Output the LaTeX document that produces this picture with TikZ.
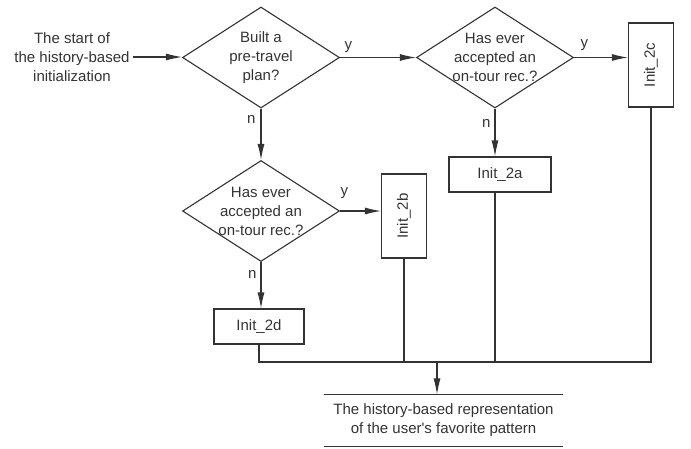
\documentclass[tikz,border=0pt]{standalone}
\usepackage{fontspec}
\setmainfont{Liberation Sans}
\usepackage{graphicx}
\usetikzlibrary{shapes.geometric,positioning,arrows.meta,calc}
\tikzset{decision/.style={diamond,draw,aspect=1.55,inner sep=0pt,minimum width=157pt,minimum height=101pt},
procbox/.style={rectangle,draw,inner sep=0pt,minimum width=90pt,minimum height=35pt},
tallbox/.style={rectangle,draw,inner sep=0pt,minimum width=45pt,minimum height=84pt},
lbl/.style={inner sep=0pt}}

\begin{document}
\begin{tikzpicture}[x=1pt,y=-1pt,line width=1.1pt,color=black!80,font=\fontsize{15}{19}\selectfont,align=center,
  line/.style={draw,-{Latex[length=16pt,width=7pt]}}]

\useasboundingbox (0,0) rectangle (691,448);

% decisions and boxes
\node (start) at (72,57) {The start of\\the history-based\\initialization};
\node[decision, label=center:{Built a\\pre-travel\\plan?}] (d1) at (261,57.5) {};
\node[decision, label=center:{Has ever\\accepted an\\on-tour rec.?}] (d2) at (495,57.5) {};
\node[decision, label=center:{Has ever\\accepted an\\on-tour rec.?}] (d3) at (261,211) {};
\node[tallbox] (i2c) at (651,65) {\rotatebox{90}{Init\_2c}};
\node[tallbox] (i2b) at (404,216) {\rotatebox{90}{Init\_2b}};
\node[procbox, minimum width=102pt] (i2a) at (500,174.5) {Init\_2a};
\node[procbox] (i2d) at (259,326.5) {Init\_2d};
\node[minimum width=237pt, minimum height=51pt, inner sep=0pt] (out) at (443.5,420.5) {The history-based representation\\of the user{\textquotesingle}s favorite pattern};
\coordinate (m) at (437,362);

% y / n labels
\node[lbl, above right=4pt and 4pt of d1.east] (y1) {y};
\node[lbl, above right=6pt and 6pt of d2.east] (y2) {y};
\node[lbl, above right=12pt and 0pt of d3.east] (y3) {y};
\node[lbl, below left=6pt and 5pt of d1.south] (n1) {n};
\node[lbl, below left=10pt and 4pt of d2.south] (n2) {n};
\node[lbl, below left=8pt and 4pt of d3.south] (n3) {n};

% connectors
\draw[line] (start.east) -- (start.east -| d1.west);
\draw[line] (d1) -- (d2);
\draw[line] (d2.east) -- (d2.east -| i2c.west);
\draw[line] (d1) -- (d3);
\draw[line] (d3.east) -- (d3.east -| i2b.west);
\draw[line] (d2.south) -- (d2.south |- i2a.north);
\draw[line] (d3.south) -- (d3.south |- i2d.north);
\draw (i2d.south) |- (m) -| (i2c.south);
\draw (i2b.south) -- (i2b.south |- m);
\draw (i2a.south -| d2.south) -- (d2.south |- m);
\draw[line] (m) -- (m |- out.north);
\draw (out.north west) -- (out.north east) (out.south west) -- (out.south east);
\end{tikzpicture}
\end{document}
